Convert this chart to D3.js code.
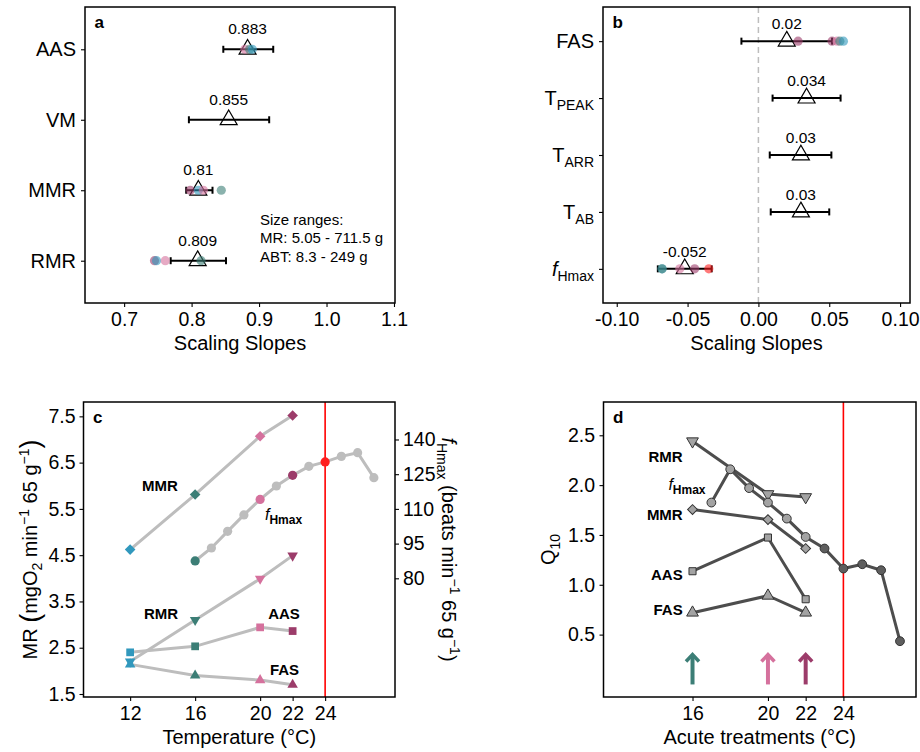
<!DOCTYPE html>
<html><head><meta charset="utf-8">
<script src="https://cdn.jsdelivr.net/npm/d3@7"></script>
<style>body{margin:0;background:#fff}</style>
</head><body><svg id="chart" width="920" height="752"></svg>
<script>
// ---------------- DATA ----------------
// Panel a
const aCats = ["AAS","VM","MMR","RMR"];
const aEst = [0.883,0.855,0.810,0.809];
const aLow = [0.847,0.796,0.792,0.769];
const aHigh = [0.921,0.915,0.831,0.851];
const aLabels = ["0.883","0.855","0.81","0.809"];
const aPtCat = ["AAS","AAS","AAS","MMR","MMR","MMR","MMR","RMR","RMR","RMR","RMR"];
const aPtTemp = [20,16,12,22,12,20,16,22,12,20,16];
const aPtVal = [0.879,0.886,0.890,0.798,0.810,0.8175,0.844,0.745,0.748,0.761,0.814];
const aTicks = [0.7,0.8,0.9,1.0,1.1];
const aTickLabels = ["0.7","0.8","0.9","1.0","1.1"];
const aNote = ["Size ranges:","MR: 5.05 - 711.5 g","ABT: 8.3 - 249 g"];
// Panel b
const bCats = ["FAS","TPEAK","TARR","TAB","fHmax"];
const bEst = [0.020,0.034,0.030,0.030,-0.052];
const bLow = [-0.012,0.010,0.008,0.0087,-0.071];
const bHigh = [0.052,0.058,0.0515,0.050,-0.033];
const bLabels = ["0.02","0.034","0.03","0.03","-0.052"];
const bPtCat = ["FAS","FAS","FAS","FAS","FAS","fHmax","fHmax","fHmax","fHmax","fHmax"];
const bPtTemp = [22,22,20,16,12,12,16,20,22,24];
const bPtVal = [0.028,0.052,0.0555,0.0575,0.060,-0.068,-0.068,-0.0555,-0.045,-0.035];
const bTicks = [-0.10,-0.05,0,0.05,0.10];
const bTickLabels = ["-0.10","-0.05","0.00","0.05","0.10"];
// Panel c
const cTemps = [12,16,20,22];
const cMMR = [4.62,5.81,7.07,7.52];
const cRMR = [2.20,3.10,3.99,4.49];
const cAAS = [2.40,2.53,2.94,2.86];
const cFAS = [2.14,1.90,1.80,1.70];
const cFhTemps = [16,17,18,19,20,21,22,23,24,25,26,27];
const cFh = [87.5,93.1,100.3,107.4,114.1,119.9,124.5,128.4,130.3,132.7,134.3,123.5];
const cXTicks = [12,16,20,22,24];
const cYTicks = [1.5,2.5,3.5,4.5,5.5,6.5,7.5];
const cY2Ticks = [80,95,110,125,140];
const cCritTemp = 24;
// Panel d
const dTemps = [16,20,22];
const dRMR = [2.44,1.91,1.88];
const dMMR = [1.755,1.654,1.364];
const dAAS = [1.136,1.474,0.855];
const dFAS = [0.72,0.89,0.72];
const dFhTemps = [17,18,19,20,21,22,23,24,25,26,27];
const dFh = [1.825,2.159,1.97,1.825,1.664,1.48,1.364,1.163,1.206,1.146,0.434];
const dArrowTemps = [16,20,22];
const dArrowRange = [0,0.3];
const dXTicks = [16,20,22,24];
const dYTicks = [0.5,1.0,1.5,2.0,2.5];

// ---------------- STYLE ----------------
const FONT = '"Liberation Sans", Arial, Helvetica, sans-serif';
const tempColor = {12:"#3198bd",16:"#3c7e76",20:"#d5719d",22:"#9c3c6a",24:"#ff1f1f"};
const svg = d3.select("#chart").attr("font-family",FONT);

const PA = {x0:85,x1:395,y0:7,y1:303};
const PB = {x0:603,x1:910,y0:7,y1:303};
const PC = {x0:83.5,x1:395,y0:402,y1:697};
const PD = {x0:603.5,x1:916,y0:402,y1:697};

function frame(P){
  svg.append("rect").attr("x",P.x0).attr("y",P.y0).attr("width",P.x1-P.x0).attr("height",P.y1-P.y0)
    .attr("fill","none").attr("stroke","#000").attr("stroke-width",1.5);
}
function styleAxis(g,size){
  g.attr("font-family",FONT).attr("font-size",size||19.5);
  g.select(".domain").remove();
  g.selectAll(".tick line").attr("stroke","#000").attr("stroke-width",1.1);
  g.selectAll(".tick text").attr("fill","#000");
}
function rich(textSel, parts, base){
  let off = 0;
  parts.forEach(p=>{
    const ts = textSel.append("tspan").text(p.t).attr("font-size", p.size||base);
    const sh = p.shift||0;
    if(sh!==off){ ts.attr("dy", sh-off); off = sh; }
    if(p.italic) ts.attr("font-style","italic");
    if(p.bold) ts.attr("font-weight","bold");
  });
}
function panelLetter(P, s){
  svg.append("text").attr("x",P.x0+9.5).attr("y",P.y0+20.5).attr("font-weight","bold")
    .attr("font-size",17).text(s);
}
function sym(kind, size){
  const t = kind==="circle"?d3.symbolCircle:(kind==="square"||kind==="diamond")?d3.symbolSquare:d3.symbolTriangle;
  return d3.symbol(t,size)();
}
function rot(kind){ return kind==="diamond"?45:kind==="tridown"?180:0; }

// ---------------- PANEL A ----------------
{
  const x = d3.scaleLinear().domain([0.642,1.1015]).range([PA.x0,PA.x1]);
  const y = d3.scalePoint().domain(aCats).range([PA.y0,PA.y1]).padding(0.6);
  const gx = svg.append("g").attr("transform",`translate(0,${PA.y1})`)
    .call(d3.axisBottom(x).tickValues(aTicks).tickSize(4).tickPadding(5.5).tickFormat((d,i)=>aTickLabels[i]));
  styleAxis(gx);
  const gy = svg.append("g").attr("transform",`translate(${PA.x0},0)`)
    .call(d3.axisLeft(y).tickSize(4).tickPadding(5));
  styleAxis(gy,20);
  const g = svg.append("g");
  aCats.forEach((c,i)=>{
    const yy = y(c);
    g.append("line").attr("x1",x(aLow[i])).attr("x2",x(aHigh[i])).attr("y1",yy).attr("y2",yy).attr("stroke","#000").attr("stroke-width",2);
    [aLow[i],aHigh[i]].forEach(v=>g.append("line").attr("x1",x(v)).attr("x2",x(v)).attr("y1",yy-3.5).attr("y2",yy+3.5).attr("stroke","#000").attr("stroke-width",2));
    g.append("path").attr("d",sym("tri",125)).attr("transform",`translate(${x(aEst[i])},${yy})`)
      .attr("fill","none").attr("stroke","#000").attr("stroke-width",1.2);
  });
  aPtVal.forEach((v,i)=>{
    g.append("circle").attr("cx",x(v)).attr("cy",y(aPtCat[i])).attr("r",4.6)
      .attr("fill",tempColor[aPtTemp[i]]).attr("opacity",0.6);
  });
  aCats.forEach((c,i)=>{
    g.append("text").attr("x",x(aEst[i])).attr("y",y(c)-15).attr("text-anchor","middle")
      .attr("font-size",15.5).text(aLabels[i]);
  });
  const nx = x(0.9014);
  aNote.forEach((t,i)=>{
    g.append("text").attr("x",nx).attr("y",y("RMR")-36+i*18.5).attr("font-size",15).text(t);
  });
  svg.append("text").attr("x",(PA.x0+PA.x1)/2).attr("y",PA.y1+47).attr("text-anchor","middle")
    .attr("font-size",20).text("Scaling Slopes");
  panelLetter(PA,"a");
  frame(PA);
}

// ---------------- PANEL B ----------------
{
  const x = d3.scaleLinear().domain([-0.1097,0.107]).range([PB.x0,PB.x1]);
  const y = d3.scalePoint().domain(bCats).range([PB.y0,PB.y1]).padding(0.6);
  const gx = svg.append("g").attr("transform",`translate(0,${PB.y1})`)
    .call(d3.axisBottom(x).tickValues(bTicks).tickSize(4).tickPadding(5.5).tickFormat((d,i)=>bTickLabels[i]));
  styleAxis(gx);
  const gy = svg.append("g").attr("transform",`translate(${PB.x0},0)`)
    .call(d3.axisLeft(y).tickSize(4).tickPadding(5).tickFormat(""));
  styleAxis(gy,20);
  const rl = {
    "FAS":[{t:"FAS"}],
    "TPEAK":[{t:"T"},{t:"PEAK",size:14,shift:5}],
    "TARR":[{t:"T"},{t:"ARR",size:14,shift:5}],
    "TAB":[{t:"T"},{t:"AB",size:14,shift:5}],
    "fHmax":[{t:"f",italic:true},{t:"Hmax",size:14,shift:5}]
  };
  bCats.forEach(c=>{
    const t = svg.append("text").attr("x",PB.x0-9).attr("y",y(c)+7).attr("text-anchor","end");
    rich(t, rl[c], 20);
  });
  const g = svg.append("g");
  g.append("line").attr("x1",x(0)).attr("x2",x(0)).attr("y1",PB.y0).attr("y2",PB.y1)
    .attr("stroke","#bdbdbd").attr("stroke-width",1.5).attr("stroke-dasharray","6,4");
  bCats.forEach((c,i)=>{
    const yy = y(c);
    g.append("line").attr("x1",x(bLow[i])).attr("x2",x(bHigh[i])).attr("y1",yy).attr("y2",yy).attr("stroke","#000").attr("stroke-width",2);
    [bLow[i],bHigh[i]].forEach(v=>g.append("line").attr("x1",x(v)).attr("x2",x(v)).attr("y1",yy-3.5).attr("y2",yy+3.5).attr("stroke","#000").attr("stroke-width",2));
    g.append("path").attr("d",sym("tri",125)).attr("transform",`translate(${x(bEst[i])},${yy})`)
      .attr("fill","none").attr("stroke","#000").attr("stroke-width",1.2);
  });
  bPtVal.forEach((v,i)=>{
    g.append("circle").attr("cx",x(v)).attr("cy",y(bPtCat[i])).attr("r",4.6)
      .attr("fill",tempColor[bPtTemp[i]]).attr("opacity",0.6);
  });
  bCats.forEach((c,i)=>{
    g.append("text").attr("x",x(bEst[i])).attr("y",y(c)-12).attr("text-anchor","middle")
      .attr("font-size",15.5).text(bLabels[i]);
  });
  svg.append("text").attr("x",(PB.x0+PB.x1)/2).attr("y",PB.y1+47).attr("text-anchor","middle")
    .attr("font-size",20).text("Scaling Slopes");
  panelLetter(PB,"b");
  frame(PB);
}

// ---------------- PANEL C ----------------
{
  const x = d3.scaleLinear().domain([9.13,28.3]).range([PC.x0,PC.x1]);
  const y = d3.scaleLinear().domain([1.435,7.81]).range([PC.y1,PC.y0]);
  const y2 = d3.scaleLinear().domain([1.435*20,7.81*20]).range([PC.y1,PC.y0]);
  const gx = svg.append("g").attr("transform",`translate(0,${PC.y1})`)
    .call(d3.axisBottom(x).tickValues(cXTicks).tickSize(4).tickPadding(5.5).tickFormat(d3.format("d")));
  styleAxis(gx);
  const gy = svg.append("g").attr("transform",`translate(${PC.x0},0)`)
    .call(d3.axisLeft(y).tickValues(cYTicks).tickSize(4).tickPadding(4).tickFormat(d3.format(".1f")));
  styleAxis(gy);
  const gy2 = svg.append("g").attr("transform",`translate(${PC.x1},0)`)
    .call(d3.axisRight(y2).tickValues(cY2Ticks).tickSize(4).tickPadding(4).tickFormat(d3.format("d")));
  styleAxis(gy2);
  const g = svg.append("g");
  g.append("line").attr("x1",x(cCritTemp)).attr("x2",x(cCritTemp)).attr("y1",PC.y0).attr("y2",PC.y1)
    .attr("stroke","#ff0000").attr("stroke-width",1.6);
  const series = [
    {vals:cMMR, kind:"diamond", size:56},
    {vals:cRMR, kind:"tridown", size:48},
    {vals:cAAS, kind:"square", size:60},
    {vals:cFAS, kind:"tri", size:48}
  ];
  const line = d3.line().x(d=>x(d[0])).y(d=>y(d[1]));
  series.forEach(s=>{
    g.append("path").attr("d",line(cTemps.map((t,i)=>[t,s.vals[i]])))
      .attr("fill","none").attr("stroke","#bdbdbd").attr("stroke-width",3);
  });
  g.append("path").attr("d",line(cFhTemps.map((t,i)=>[t,cFh[i]/20])))
    .attr("fill","none").attr("stroke","#bdbdbd").attr("stroke-width",3);
  series.forEach(s=>{
    cTemps.forEach((t,i)=>{
      g.append("path").attr("d",sym(s.kind,s.size))
        .attr("transform",`translate(${x(t)},${y(s.vals[i])}) rotate(${rot(s.kind)})`)
        .attr("fill",tempColor[t]);
    });
  });
  cFhTemps.forEach((t,i)=>{
    g.append("circle").attr("cx",x(t)).attr("cy",y2(cFh[i])).attr("r",4.6)
      .attr("fill",tempColor[t]||"#bdbdbd");
  });
  const lab = (tx,ty,s)=>g.append("text").attr("x",x(tx)).attr("y",y(ty)).attr("text-anchor","middle")
    .attr("font-weight","bold").attr("font-size",15).text(s);
  lab(13.84,5.887,"MMR"); lab(13.9,3.12,"RMR"); lab(21.47,3.12,"AAS"); lab(21.5,1.91,"FAS");
  const ft = g.append("text").attr("x",x(20.3)).attr("y",y(5.26));
  rich(ft,[{t:"f",italic:true,size:16},{t:"Hmax",bold:true,size:12,shift:4}],15);
  // axis titles
  const lt = svg.append("text").attr("transform",`translate(37,${(PC.y0+PC.y1)/2}) rotate(-90)`).attr("text-anchor","middle");
  rich(lt,[{t:"MR "},{t:"(",size:27,shift:2},{t:"mgO",shift:0},{t:"2",size:14,shift:5},{t:" min",shift:0},
    {t:"−1",size:14,shift:-8},{t:" 65 g",shift:0},{t:"−1",size:14,shift:-8},{t:")",size:27,shift:2}],20);
  const rt = svg.append("text").attr("transform",`translate(442,${(PC.y0+PC.y1)/2}) rotate(90)`).attr("text-anchor","middle");
  rich(rt,[{t:"f",italic:true},{t:"Hmax",size:14,shift:5},{t:" (beats min",shift:0},{t:"−1",size:14,shift:-8},
    {t:" 65 g",shift:0},{t:"−1",size:14,shift:-8},{t:")",shift:0}],20);
  svg.append("text").attr("x",(PC.x0+PC.x1)/2).attr("y",PC.y1+47).attr("text-anchor","middle")
    .attr("font-size",20).text("Temperature (°C)");
  panelLetter(PC,"c");
  frame(PC);
}

// ---------------- PANEL D ----------------
{
  const x = d3.scaleLinear().domain([11.28,27.85]).range([PD.x0,PD.x1]);
  const y = d3.scaleLinear().domain([-0.126,2.834]).range([PD.y1,PD.y0]);
  const gx = svg.append("g").attr("transform",`translate(0,${PD.y1})`)
    .call(d3.axisBottom(x).tickValues(dXTicks).tickSize(4).tickPadding(5.5).tickFormat(d3.format("d")));
  styleAxis(gx);
  const gy = svg.append("g").attr("transform",`translate(${PD.x0},0)`)
    .call(d3.axisLeft(y).tickValues(dYTicks).tickSize(4).tickPadding(4.5).tickFormat(d3.format(".1f")));
  styleAxis(gy);
  const g = svg.append("g");
  g.append("line").attr("x1",x(24)).attr("x2",x(24)).attr("y1",PD.y0).attr("y2",PD.y1)
    .attr("stroke","#ff0000").attr("stroke-width",1.6);
  dArrowTemps.forEach(t=>{
    const xx = x(t), yb = y(dArrowRange[0]), yt = y(dArrowRange[1]);
    g.append("line").attr("x1",xx).attr("x2",xx).attr("y1",yb).attr("y2",yt+1.5)
      .attr("stroke",tempColor[t]).attr("stroke-width",4);
    g.append("polyline").attr("points",`${xx-6.5},${yt+7} ${xx},${yt} ${xx+6.5},${yt+7}`)
      .attr("fill","none").attr("stroke",tempColor[t]).attr("stroke-width",3.5).attr("stroke-linejoin","miter");
  });
  const line = d3.line().x(d=>x(d[0])).y(d=>y(d[1]));
  const series = [
    {vals:dRMR, kind:"tridown", size:60},
    {vals:dMMR, kind:"diamond", size:48},
    {vals:dAAS, kind:"square", size:50},
    {vals:dFAS, kind:"tri", size:60}
  ];
  series.forEach(s=>{
    g.append("path").attr("d",line(dTemps.map((t,i)=>[t,s.vals[i]])))
      .attr("fill","none").attr("stroke","#4d4d4d").attr("stroke-width",3);
  });
  g.append("path").attr("d",line(dFhTemps.map((t,i)=>[t,dFh[i]])))
    .attr("fill","none").attr("stroke","#4d4d4d").attr("stroke-width",3);
  series.forEach(s=>{
    dTemps.forEach((t,i)=>{
      g.append("path").attr("d",sym(s.kind,s.size))
        .attr("transform",`translate(${x(t)},${y(s.vals[i])}) rotate(${rot(s.kind)})`)
        .attr("fill","#a3a3a3").attr("stroke","#333").attr("stroke-width",1);
    });
  });
  dFhTemps.forEach((t,i)=>{
    g.append("circle").attr("cx",x(t)).attr("cy",y(dFh[i])).attr("r",4.4)
      .attr("fill",t>=23?"#5e5e5e":"#a3a3a3").attr("stroke","#333").attr("stroke-width",1);
  });
  const lab = (ty,s)=>g.append("text").attr("x",x(15.48)).attr("y",y(ty)).attr("text-anchor","end")
    .attr("font-weight","bold").attr("font-size",15).text(s);
  lab(2.227,"RMR"); lab(1.65,"MMR"); lab(1.048,"AAS"); lab(0.692,"FAS");
  const ft = g.append("text").attr("x",x(14.72)).attr("y",y(1.951));
  rich(ft,[{t:"f",italic:true,size:16},{t:"Hmax",bold:true,size:12,shift:4}],15);
  const qt = svg.append("text").attr("transform",`translate(555,${(PD.y0+PD.y1)/2}) rotate(-90)`).attr("text-anchor","middle");
  rich(qt,[{t:"Q"},{t:"10",size:14,shift:5}],20);
  svg.append("text").attr("x",(PD.x0+PD.x1)/2).attr("y",PD.y1+47).attr("text-anchor","middle")
    .attr("font-size",20).text("Acute treatments (°C)");
  panelLetter(PD,"d");
  frame(PD);
}
</script></body></html>
